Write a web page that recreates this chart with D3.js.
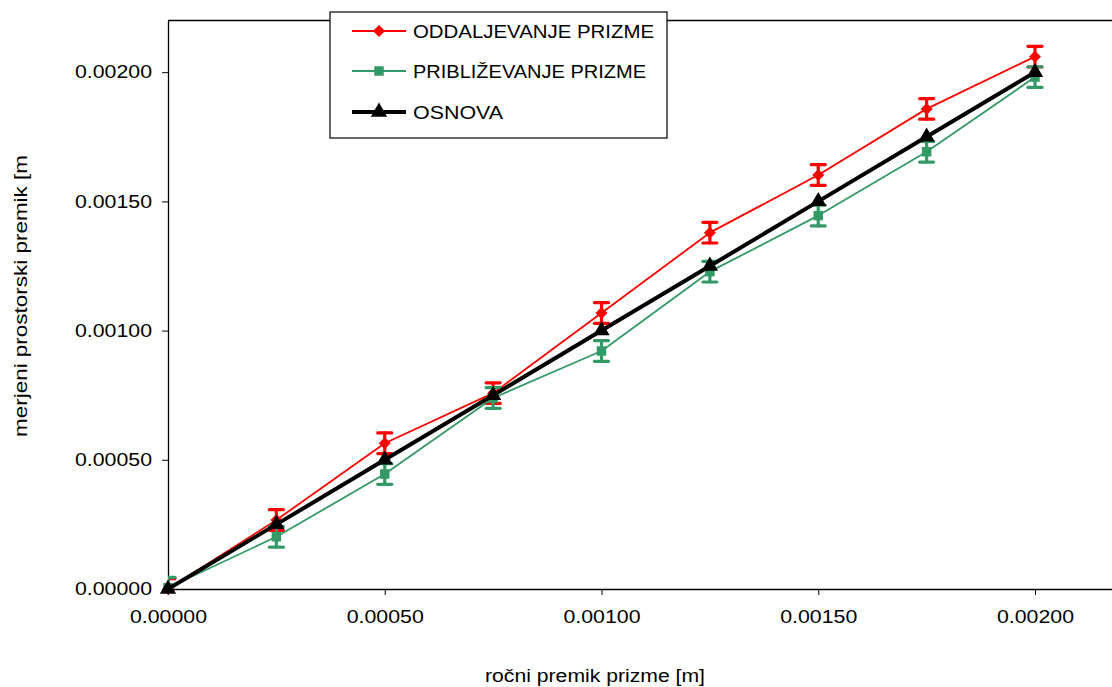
<!DOCTYPE html>
<html>
<head>
<meta charset="utf-8">
<script src="https://cdn.jsdelivr.net/npm/d3@7"></script>
<style>
  body { margin: 0; background: #fff; }
  svg { display: block; font-family: "Liberation Sans", Arial, sans-serif; }
</style>
</head>
<body>
<div id="chart"></div>
<script>
// data
const xValues = [0, 0.00025, 0.0005, 0.00075, 0.001, 0.00125, 0.0015, 0.00175, 0.002];
const oddaljevanje = [0, 0.000267, 0.000564, 0.000758, 0.001068, 0.001379, 0.001602, 0.001858, 0.00206];
const oddaljevanjeErr = [0.00004, 0.00004, 0.00004, 0.00004, 0.00004, 0.00004, 0.00004, 0.00004, 0.00004];
const priblizevanje = [0.000005, 0.000202, 0.000445, 0.000739, 0.000921, 0.001228, 0.001445, 0.001692, 0.001981];
const priblizevanjeErr = [0.00004, 0.00004, 0.00004, 0.00004, 0.00004, 0.00004, 0.00004, 0.00004, 0.00004];
const osnova = [0, 0.00025, 0.0005, 0.00075, 0.001, 0.00125, 0.0015, 0.00175, 0.002];
const tickValues = [0, 0.0005, 0.001, 0.0015, 0.002];
const seriesNames = ["ODDALJEVANJE PRIZME", "PRIBLIŽEVANJE PRIZME", "OSNOVA"];

const width = 1112, height = 687;
const plot = { left: 168, top: 20.5, bottom: 589, right: 1121.7 };
const fontSize = 18;

const svg = d3.select("#chart").append("svg")
  .attr("width", width)
  .attr("height", height);

svg.append("clipPath").attr("id", "plotClip")
  .append("rect")
  .attr("x", plot.left).attr("y", plot.top)
  .attr("width", plot.right - plot.left).attr("height", plot.bottom - plot.top);

const x = d3.scaleLinear().domain([0, 0.0022]).range([plot.left, plot.right]);
const y = d3.scaleLinear().domain([0, 0.0022]).range([plot.bottom, plot.top]);
const fmt = d3.format(".5f");

// frame (top + right edge, right edge is off-screen)
svg.append("path")
  .attr("d", `M${plot.left},${plot.top}H${plot.right}V${plot.bottom}`)
  .attr("fill", "none")
  .attr("stroke", "#000")
  .attr("stroke-width", 1.3);

// axes
const gx = svg.append("g")
  .attr("transform", `translate(0,${plot.bottom})`)
  .call(d3.axisBottom(x).tickValues(tickValues).tickFormat(fmt).tickSizeInner(6).tickSizeOuter(0).tickPadding(15));
const gy = svg.append("g")
  .attr("transform", `translate(${plot.left},0)`)
  .call(d3.axisLeft(y).tickValues(tickValues).tickFormat(fmt).tickSizeInner(6).tickSizeOuter(0).tickPadding(10));

[gx, gy].forEach(g => {
  g.select(".domain").attr("stroke-width", 1.3);
  g.selectAll(".tick line").attr("stroke-width", 1);
  g.selectAll("text")
    .attr("font-family", "Liberation Sans, Arial, sans-serif")
    .attr("font-size", fontSize)
    .attr("fill", "#000")
    .attr("textLength", 77)
    .attr("lengthAdjust", "spacingAndGlyphs");
});

// axis titles
svg.append("text")
  .attr("x", 595)
  .attr("y", 682)
  .attr("text-anchor", "middle")
  .attr("font-size", fontSize)
  .attr("textLength", 220)
  .attr("lengthAdjust", "spacingAndGlyphs")
  .text("ročni premik prizme [m]");

svg.append("text")
  .attr("transform", "translate(27,296) rotate(-90)")
  .attr("text-anchor", "middle")
  .attr("font-size", fontSize)
  .attr("textLength", 282)
  .attr("lengthAdjust", "spacingAndGlyphs")
  .text("merjeni prostorski premik [m");

// series
const series = [
  { name: seriesNames[0], values: oddaljevanje, err: oddaljevanjeErr, color: "#ff0000", lw: 1.8, symbol: d3.symbolSquare, size: 72, rotate: 45 },
  { name: seriesNames[1], values: priblizevanje, err: priblizevanjeErr, color: "#339966", lw: 1.8, symbol: d3.symbolSquare, size: 90, rotate: 0 },
  { name: seriesNames[2], values: osnova, err: null, color: "#000000", lw: 4, symbol: d3.symbolTriangle, size: 115, rotate: 0 }
];

const line = d3.line().x(d => x(d.x)).y(d => y(d.y));

series.forEach(s => {
  const pts = xValues.map((xv, i) => ({ x: xv, y: s.values[i], e: s.err ? s.err[i] : 0 }));
  const g = svg.append("g").attr("class", "series");

  g.append("path")
    .datum(pts)
    .attr("d", line)
    .attr("fill", "none")
    .attr("stroke", s.color)
    .attr("stroke-width", s.lw)
    .attr("stroke-linejoin", "round");

  if (s.err) {
    const eb = g.append("g").attr("clip-path", "url(#plotClip)")
      .selectAll(".err").data(pts).enter().append("g")
      .attr("class", "err")
      .attr("stroke", s.color)
      .attr("stroke-width", 3.2)
      .attr("stroke-linecap", "round");
    eb.append("line")
      .attr("x1", d => x(d.x)).attr("x2", d => x(d.x))
      .attr("y1", d => y(d.y - d.e)).attr("y2", d => y(d.y + d.e));
    eb.append("line")
      .attr("x1", d => x(d.x) - 7).attr("x2", d => x(d.x) + 7)
      .attr("y1", d => y(d.y + d.e)).attr("y2", d => y(d.y + d.e));
    eb.append("line")
      .attr("x1", d => x(d.x) - 7).attr("x2", d => x(d.x) + 7)
      .attr("y1", d => y(d.y - d.e)).attr("y2", d => y(d.y - d.e));
  }

  g.selectAll(".mark").data(pts).enter().append("path")
    .attr("class", "mark")
    .attr("transform", d => `translate(${x(d.x)},${y(d.y)}) rotate(${s.rotate})`)
    .attr("d", d3.symbol().type(s.symbol).size(s.size))
    .attr("fill", s.color);
});

// legend
const legend = svg.append("g").attr("transform", "translate(330,12)");
legend.append("rect")
  .attr("width", 337)
  .attr("height", 126)
  .attr("fill", "#fff")
  .attr("stroke", "#000")
  .attr("stroke-width", 1.2);

const legendWidths = [241, 233, 90];
const rowY = [19, 59, 100];
series.forEach((s, i) => {
  const row = legend.append("g").attr("transform", `translate(0,${rowY[i]})`);
  row.append("line")
    .attr("x1", 22).attr("x2", 76)
    .attr("stroke", s.color)
    .attr("stroke-width", s.lw);
  row.append("path")
    .attr("transform", `translate(49,0) rotate(${s.rotate})`)
    .attr("d", d3.symbol().type(s.symbol).size(s.size))
    .attr("fill", s.color);
  row.append("text")
    .attr("x", 83)
    .attr("y", 6.5)
    .attr("font-size", fontSize)
    .attr("textLength", legendWidths[i])
    .attr("lengthAdjust", "spacingAndGlyphs")
    .text(s.name);
});
</script>
</body>
</html>
